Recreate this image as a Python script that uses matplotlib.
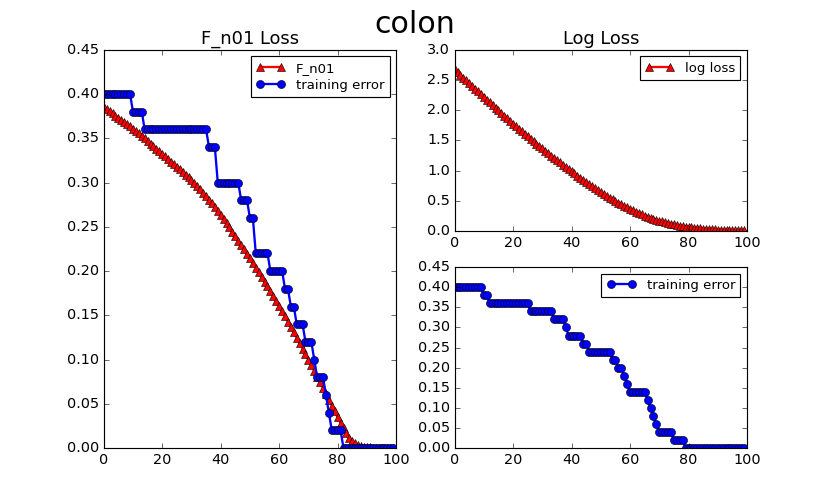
import matplotlib
matplotlib.use('Agg')
import matplotlib.pyplot as plt

plt.style.use('classic')

epochs = list(range(100))

fn01_loss = [
    0.3850, 0.3827, 0.3804, 0.3781, 0.3757, 0.3733, 0.3709, 0.3684, 0.3659, 0.3634,
    0.3608, 0.3582, 0.3555, 0.3527, 0.3499, 0.3470, 0.3441, 0.3412, 0.3383, 0.3354,
    0.3325, 0.3296, 0.3267, 0.3238, 0.3209, 0.3180, 0.3150, 0.3120, 0.3090, 0.3059,
    0.3027, 0.2994, 0.2960, 0.2925, 0.2888, 0.2849, 0.2808, 0.2766, 0.2723, 0.2679,
    0.2634, 0.2588, 0.2541, 0.2493, 0.2444, 0.2395, 0.2345, 0.2295, 0.2245, 0.2194,
    0.2143, 0.2092, 0.2040, 0.1988, 0.1935, 0.1882, 0.1828, 0.1774, 0.1719, 0.1664,
    0.1607, 0.1549, 0.1490, 0.1430, 0.1370, 0.1310, 0.1249, 0.1188, 0.1126, 0.1064,
    0.1001, 0.0938, 0.0874, 0.0809, 0.0744, 0.0679, 0.0614, 0.0547, 0.0481, 0.0415,
    0.0350, 0.0285, 0.0225, 0.0168, 0.0120, 0.0082, 0.0055, 0.0036, 0.0024, 0.0016,
    0.0011, 0.0008, 0.0006, 0.0005, 0.0004, 0.0003, 0.0003, 0.0002, 0.0002, 0.0002,
]

train_err_fn01 = [
    0.40, 0.40, 0.40, 0.40, 0.40, 0.40, 0.40, 0.40, 0.40, 0.40,
    0.38, 0.38, 0.38, 0.38, 0.36, 0.36, 0.36, 0.36, 0.36, 0.36,
    0.36, 0.36, 0.36, 0.36, 0.36, 0.36, 0.36, 0.36, 0.36, 0.36,
    0.36, 0.36, 0.36, 0.36, 0.36, 0.36, 0.34, 0.34, 0.34, 0.30,
    0.30, 0.30, 0.30, 0.30, 0.30, 0.30, 0.30, 0.28, 0.28, 0.28,
    0.26, 0.26, 0.22, 0.22, 0.22, 0.22, 0.22, 0.20, 0.20, 0.20,
    0.20, 0.20, 0.18, 0.18, 0.16, 0.16, 0.14, 0.14, 0.14, 0.12,
    0.12, 0.12, 0.10, 0.08, 0.08, 0.08, 0.06, 0.04, 0.02, 0.02,
    0.02, 0.02, 0.00, 0.00, 0.00, 0.00, 0.00, 0.00, 0.00, 0.00,
    0.00, 0.00, 0.00, 0.00, 0.00, 0.00, 0.00, 0.00, 0.00, 0.00,
]

log_loss = [
    2.680, 2.633, 2.586, 2.540, 2.493, 2.447, 2.401, 2.355, 2.310, 2.264,
    2.219, 2.174, 2.129, 2.085, 2.040, 1.996, 1.952, 1.908, 1.865, 1.821,
    1.778, 1.735, 1.692, 1.650, 1.608, 1.567, 1.526, 1.485, 1.445, 1.405,
    1.366, 1.326, 1.287, 1.248, 1.210, 1.172, 1.134, 1.097, 1.060, 1.024,
    0.988, 0.952, 0.916, 0.881, 0.846, 0.812, 0.778, 0.744, 0.711, 0.678,
    0.646, 0.614, 0.583, 0.553, 0.523, 0.494, 0.467, 0.440, 0.413, 0.388,
    0.364, 0.340, 0.317, 0.295, 0.274, 0.254, 0.235, 0.218, 0.201, 0.186,
    0.171, 0.156, 0.142, 0.129, 0.117, 0.106, 0.096, 0.087, 0.079, 0.071,
    0.065, 0.059, 0.053, 0.047, 0.042, 0.038, 0.034, 0.030, 0.027, 0.024,
    0.021, 0.019, 0.017, 0.015, 0.014, 0.0125, 0.0114, 0.0105, 0.0097, 0.0090,
]

train_err_log = [
    0.40, 0.40, 0.40, 0.40, 0.40, 0.40, 0.40, 0.40, 0.40, 0.40,
    0.38, 0.38, 0.36, 0.36, 0.36, 0.36, 0.36, 0.36, 0.36, 0.36,
    0.36, 0.36, 0.36, 0.36, 0.36, 0.36, 0.34, 0.34, 0.34, 0.34,
    0.34, 0.34, 0.34, 0.34, 0.32, 0.32, 0.32, 0.32, 0.30, 0.28,
    0.28, 0.28, 0.28, 0.28, 0.26, 0.26, 0.24, 0.24, 0.24, 0.24,
    0.24, 0.24, 0.24, 0.24, 0.22, 0.22, 0.20, 0.20, 0.18, 0.16,
    0.14, 0.14, 0.14, 0.14, 0.14, 0.14, 0.12, 0.10, 0.08, 0.06,
    0.04, 0.04, 0.04, 0.04, 0.04, 0.02, 0.02, 0.02, 0.02, 0.00,
    0.00, 0.00, 0.00, 0.00, 0.00, 0.00, 0.00, 0.00, 0.00, 0.00,
    0.00, 0.00, 0.00, 0.00, 0.00, 0.00, 0.00, 0.00, 0.00, 0.00,
]

plt.rcParams['xtick.labelsize'] = 12.5
plt.rcParams['ytick.labelsize'] = 12.5

leg_kw = dict(loc='upper right', fontsize=11.5, labelspacing=0.3, handlelength=2.2)
mk = dict(lw=2, ms=7, mec='k', mew=0.5)

fig = plt.figure(figsize=(10, 6), dpi=83)
fig.suptitle('colon', fontsize=26)

# left: F_n01 loss with training error
ax1 = plt.subplot(1, 2, 1)
ax1.plot(epochs, fn01_loss, 'r^-', label='F_n01', **mk)
ax1.plot(epochs, train_err_fn01, 'bo-', label='training error', **mk)
ax1.set_title('F_n01 Loss', fontsize=15.5)
ax1.set_xlim(0, 100)
ax1.set_ylim(0, 0.45)
ax1.legend(**leg_kw)

# top right: log loss
ax2 = plt.subplot(2, 2, 2)
ax2.plot(epochs, log_loss, 'r^-', label='log loss', **mk)
ax2.set_title('Log Loss', fontsize=15.5)
ax2.set_xlim(0, 100)
ax2.set_ylim(0, 3.0)
ax2.legend(**leg_kw)

# bottom right: training error for log loss
ax3 = plt.subplot(2, 2, 4)
ax3.plot(epochs, train_err_log, 'bo-', label='training error', **mk)
ax3.set_xlim(0, 100)
ax3.set_ylim(0, 0.45)
ax3.legend(**leg_kw)

fig.savefig('out.png', dpi=83)
